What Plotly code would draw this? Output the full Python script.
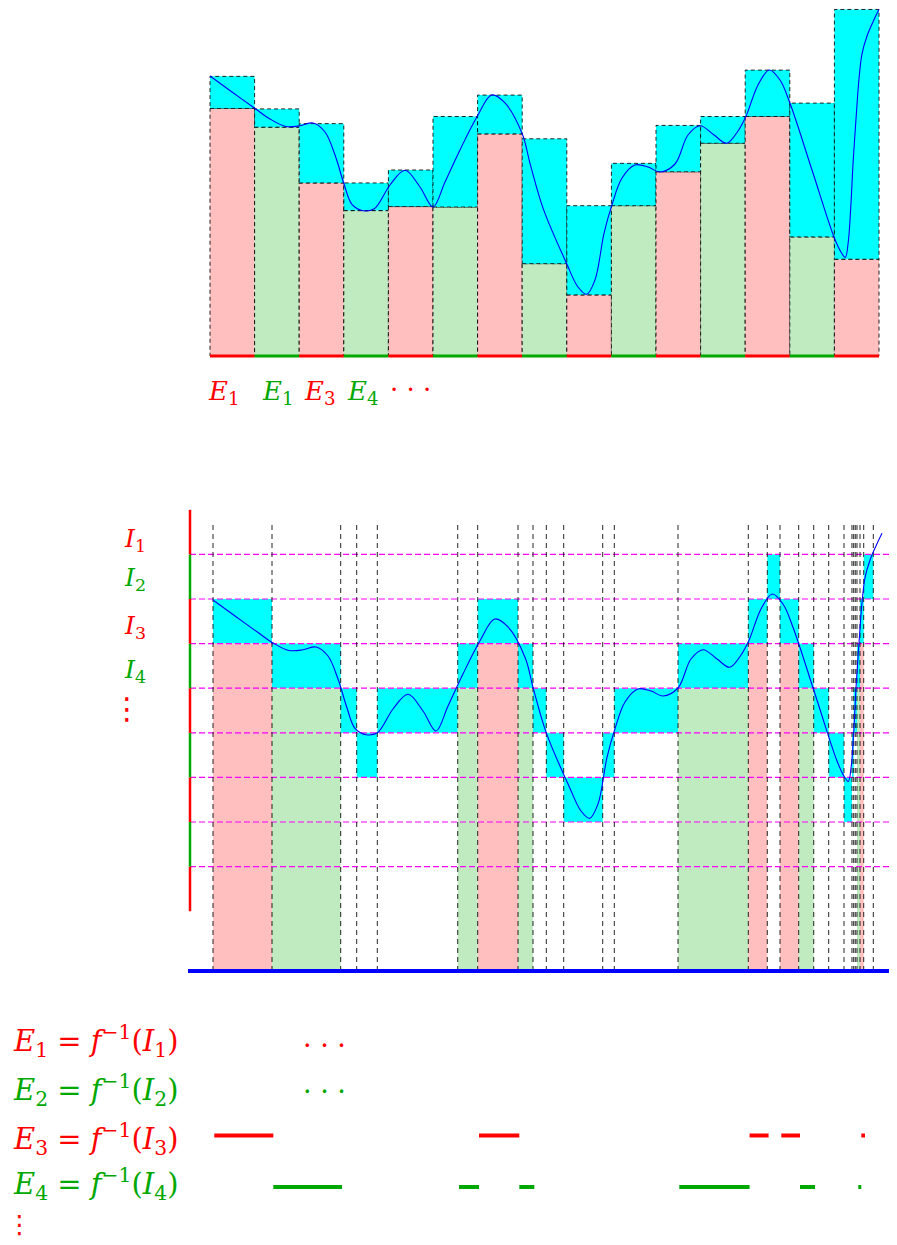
import plotly.graph_objects as go

# ---------------- data (x in strip widths, y in the same unit) ----------------
# Riemann picture: 15 unit-width strips, lower and upper sums
strip_lower = [5.55, 5.13, 3.88, 3.26, 3.35, 3.34, 4.98, 2.07, 1.37, 3.37, 4.13, 4.77, 5.37, 2.67, 2.17]
strip_upper = [6.27, 5.54, 5.21, 3.88, 4.17, 5.37, 5.85, 4.87, 3.37, 4.32, 5.17, 5.37, 6.41, 5.67, 7.77]

# the function f
curve_x = [0.0, 0.493, 1.002, 1.345, 1.704, 2.018, 2.309, 2.578, 2.803, 2.998, 3.184, 3.430, 3.684,
           4.036, 4.372, 4.709, 5.000, 5.269, 5.605, 5.993, 6.316, 6.614, 7.002, 7.175, 7.473, 7.998,
           8.251, 8.446, 8.632, 8.834, 9.007, 9.238, 9.529, 9.821, 10.090, 10.426, 10.717, 10.987,
           11.300, 11.585, 11.839, 12.018, 12.287, 12.540, 12.780, 13.004, 13.498, 13.991, 14.148,
           14.244, 14.310, 14.365, 14.420, 14.480, 14.550, 14.620, 14.730, 14.865, 15.0]
curve_y = [6.278, 5.919, 5.554, 5.314, 5.146, 5.161, 5.224, 5.022, 4.507, 3.879, 3.40, 3.258, 3.30,
           3.834, 4.164, 3.789, 3.341, 3.90, 4.619, 5.374, 5.852, 5.673, 4.978, 4.321, 3.30, 2.070,
           1.547, 1.383, 1.704, 2.75, 3.370, 3.991, 4.283, 4.238, 4.126, 4.305, 4.955, 5.164,
           4.955, 4.769, 5.045, 5.374, 6.076, 6.413, 6.188, 5.666, 4.170, 2.668, 2.33,
           2.21, 2.55, 3.30, 4.35, 5.25, 6.20, 6.78, 7.17, 7.49, 7.774]

# Lebesgue picture: level edges on the y axis, cut points on the x axis and the band f falls in
level_edges = [-0.7, 0.3, 1.3, 2.3, 3.3, 4.3, 5.3, 6.3, 7.3, 8.3]
cut_x = [0.0, 1.323, 2.863, 3.222, 3.684, 5.487, 5.935, 6.839, 7.175, 7.473, 7.863, 8.738, 8.998,
         10.426, 12.002, 12.428, 12.713, 13.132, 13.469, 13.805, 14.148, 14.327, 14.365, 14.401,
         14.439, 14.507, 14.590, 14.805]
cut_band = [6, 5, 4, 3, 4, 5, 6, 5, 4, 3, 2, 3, 4, 5, 6, 7, 6, 5, 4, 3, 2, 3, 4, 4, 5, 6, 7]

# texts
strip_labels = ["<i>E</i><sub>1</sub>", "<i>E</i><sub>1</sub>", "<i>E</i><sub>3</sub>",
                "<i>E</i><sub>4</sub>", "· · ·"]
level_labels = ["<i>I</i><sub>1</sub>", "<i>I</i><sub>2</sub>", "<i>I</i><sub>3</sub>",
                "<i>I</i><sub>4</sub>", "⋮"]
eq_labels = ["<i>E</i><sub>1</sub> = <i>f</i><sup>−1</sup>(<i>I</i><sub>1</sub>)",
             "<i>E</i><sub>2</sub> = <i>f</i><sup>−1</sup>(<i>I</i><sub>2</sub>)",
             "<i>E</i><sub>3</sub> = <i>f</i><sup>−1</sup>(<i>I</i><sub>3</sub>)",
             "<i>E</i><sub>4</sub> = <i>f</i><sup>−1</sup>(<i>I</i><sub>4</sub>)",
             "⋮"]
eq_dots = ["· · ·", "· · ·"]

# ---------------- style / layout ----------------
W, H = 897, 1245
OFF = 8                          # the page body margin
UNIT = 44.6
TOP_X0, TOP_Y0 = 210, 356        # page pixel of (0, 0) in the top picture
BOT_X0, BOT_Y0 = 213, 880        # page pixel of (0, 0) in the bottom picture
SPLIT = 425                      # page row separating the two pictures

RED = "#FF0000"
GREEN = "#00A800"
PINK = "#FFBFBF"
LGREEN = "#C0EAC0"
CYAN = "#00FFFF"
MAGENTA = "#FF00FF"
BLUE = "#0000FF"
DASHCOL = "rgba(0,0,0,0.85)"
FONT = "DejaVu Serif"

def px_x(px, x0):
    return (px - x0) / UNIT

def px_y(py, y0):
    return (y0 - py) / UNIT

BASE_BOT = px_y(971, BOT_Y0)      # blue axis of the bottom picture
AXIS_X = px_x(190, BOT_X0)        # red/green y axis of the bottom picture
VLINE_TOP = px_y(525, BOT_Y0)
SEG_SHIFT = 1.3 / UNIT
SEG_ROW = {6: px_y(1135.5, BOT_Y0), 5: px_y(1187, BOT_Y0)}
ALT = [RED, GREEN]

shapes = []

def add_rect(xa, ya, x0, x1, y0, y1, fill, dashed=False, layer="below"):
    d = dict(type="rect", xref=xa, yref=ya, x0=x0, x1=x1, y0=y0, y1=y1,
             fillcolor=fill, layer=layer)
    if dashed:
        d["line"] = dict(color=DASHCOL, width=1, dash="4px,3px")
    else:
        d["line"] = dict(width=0)
    shapes.append(d)

def add_line(xa, ya, x0, x1, y0, y1, color, width, dash="solid", layer="below"):
    shapes.append(dict(type="line", xref=xa, yref=ya, x0=x0, x1=x1, y0=y0, y1=y1,
                       line=dict(color=color, width=width, dash=dash), layer=layer))

# ---- top picture: strips ----
for i, (lo, up) in enumerate(zip(strip_lower, strip_upper)):
    add_rect("x", "y", i, i + 1, 0, lo, PINK if i % 2 == 0 else LGREEN, dashed=True)
    add_rect("x", "y", i, i + 1, lo, up, CYAN, dashed=True)
for i in range(len(strip_lower)):
    add_line("x", "y", i, i + 1, 0, 0, ALT[i % 2], 3, layer="above")

# ---- bottom picture ----
for i, b in enumerate(cut_band):
    xa, xb = cut_x[i], cut_x[i + 1]
    add_rect("x2", "y2", xa, xb, level_edges[b], level_edges[b + 1], CYAN)
    if b == 6:
        add_rect("x2", "y2", xa, xb, BASE_BOT, level_edges[b], PINK)
    elif b == 5:
        add_rect("x2", "y2", xa, xb, BASE_BOT, level_edges[b], LGREEN)
    if b in SEG_ROW:
        add_line("x2", "y2", xa + SEG_SHIFT, xb + SEG_SHIFT, SEG_ROW[b], SEG_ROW[b],
                 RED if b == 6 else GREEN, 4)

for lv in level_edges[1:-1]:
    add_line("x2", "y2", AXIS_X, px_x(W, BOT_X0), lv, lv, MAGENTA, 1.2, "6px,3px")
for cx in cut_x:
    add_line("x2", "y2", cx, cx, BASE_BOT, VLINE_TOP, DASHCOL, 1, "5px,4px")
for k in range(len(level_edges) - 1):
    add_line("x2", "y2", AXIS_X, AXIS_X, level_edges[k], level_edges[k + 1],
             ALT[k % 2], 2.5, layer="above")
add_line("x2", "y2", px_x(188, BOT_X0), px_x(W, BOT_X0), BASE_BOT, BASE_BOT, BLUE, 4, layer="above")

fig = go.Figure()
fig.add_trace(go.Scatter(x=curve_x, y=curve_y, mode="lines", xaxis="x", yaxis="y",
                         line=dict(color=BLUE, width=1.1, shape="spline", smoothing=1.0),
                         hoverinfo="skip", showlegend=False))
fig.add_trace(go.Scatter(x=curve_x, y=curve_y, mode="lines", xaxis="x2", yaxis="y2",
                         line=dict(color=BLUE, width=1.1, shape="spline", smoothing=1.0),
                         hoverinfo="skip", showlegend=False))

annotations = []

def add_text(xa, ya, x, y, text, color, size, anchor="center", family=FONT):
    annotations.append(dict(xref=xa, yref=ya, x=x, y=y, text=text, showarrow=False,
                            xanchor=anchor, yanchor="middle",
                            font=dict(family=family, size=size, color=color)))

strip_label_px = [224, 278, 320, 363, 410]
for k, (t, px) in enumerate(zip(strip_labels, strip_label_px)):
    ypx = 392 if k < 4 else 389
    add_text("x", "y", px_x(px, TOP_X0), px_y(ypx, TOP_Y0), t, ALT[k % 2], 26)

level_label_py = [540, 579, 627, 671, 708]
for k, (t, py) in enumerate(zip(level_labels, level_label_py)):
    if k < 4:
        add_text("x2", "y2", px_x(122, BOT_X0), px_y(py, BOT_Y0), t, ALT[k % 2], 25, "left")
    else:
        add_text("x2", "y2", px_x(127, BOT_X0), px_y(py, BOT_Y0), t, RED, 30, "center", "DejaVu Sans")

eq_py = [1041, 1090, 1139, 1184, 1224]
for k, (t, py) in enumerate(zip(eq_labels, eq_py)):
    if k < 4:
        add_text("x2", "y2", px_x(11, BOT_X0), px_y(py, BOT_Y0), t, ALT[k % 2], 29, "left")
    else:
        add_text("x2", "y2", px_x(19, BOT_X0), px_y(py, BOT_Y0), t, RED, 25, "center", "DejaVu Sans")
for k, t in enumerate(eq_dots):
    add_text("x2", "y2", px_x(324, BOT_X0), px_y([1045, 1091][k], BOT_Y0), t, ALT[k % 2], 27)

fig.update_layout(
    width=W, height=H, margin=dict(l=0, r=0, t=0, b=0),
    paper_bgcolor="white", plot_bgcolor="rgba(0,0,0,0)",
    showlegend=False, shapes=shapes, annotations=annotations,
    xaxis=dict(domain=[0, 1], range=[px_x(OFF, TOP_X0), px_x(OFF + W, TOP_X0)], visible=False,
               fixedrange=True, anchor="y"),
    yaxis=dict(domain=[1 - (SPLIT - OFF) / H, 1], range=[px_y(SPLIT, TOP_Y0), px_y(OFF, TOP_Y0)],
               visible=False, fixedrange=True, anchor="x"),
    xaxis2=dict(domain=[0, 1], range=[px_x(OFF, BOT_X0), px_x(OFF + W, BOT_X0)], visible=False,
                fixedrange=True, anchor="y2"),
    yaxis2=dict(domain=[0, 1 - (SPLIT - OFF) / H], range=[px_y(H + OFF, BOT_Y0), px_y(SPLIT, BOT_Y0)],
                visible=False, fixedrange=True, anchor="x2"),
)

fig.write_html("out.html")
